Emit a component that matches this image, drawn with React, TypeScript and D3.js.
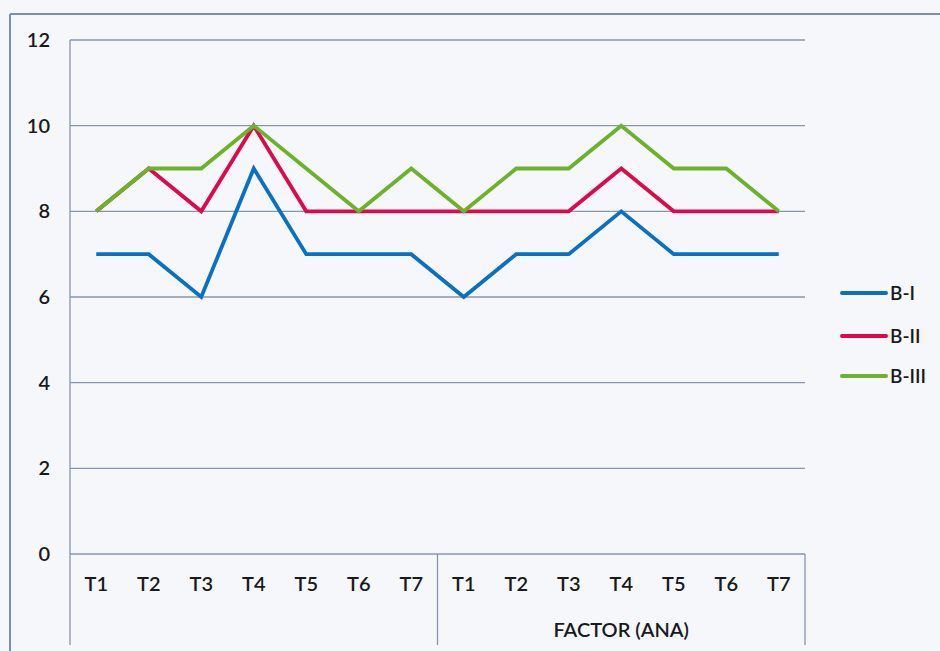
import React from "react";
import * as d3 from "d3";

const categories = ["T1", "T2", "T3", "T4", "T5", "T6", "T7", "T1", "T2", "T3", "T4", "T5", "T6", "T7"];
const seriesNames = ["B-I", "B-II", "B-III"];
const bI = [7, 7, 6, 9, 7, 7, 7, 6, 7, 7, 8, 7, 7, 7];
const bII = [8, 9, 8, 10, 8, 8, 8, 8, 8, 8, 9, 8, 8, 8];
const bIII = [8, 9, 9, 10, 9, 8, 9, 8, 9, 9, 10, 9, 9, 8];
const yTicks = [0, 2, 4, 6, 8, 10, 12];
const groupLabel = "FACTOR (ANA)";

const W = 940;
const H = 651;
const plot = { left: 70, right: 805, top: 40, bottom: 554 };
const colors = ["#0a70c2", "#dc0a4c", "#6cb22a"];
const gridColor = "#8796ae";
const font = "Lato, 'Open Sans', sans-serif";
const textColor = "#1a1a1a";

export default function App() {
  const x = d3
    .scaleBand<number>()
    .domain(categories.map((_, i) => i))
    .range([plot.left, plot.right])
    .paddingInner(0)
    .paddingOuter(0);
  const y = d3.scaleLinear().domain([0, 12]).range([plot.bottom, plot.top]);
  const cx = (i: number) => (x(i) as number) + x.bandwidth() / 2;

  const line = d3
    .line<number>()
    .x((_, i) => cx(i))
    .y((v) => y(v));

  const series = [bI, bII, bIII];
  const sepX = x(7) as number;
  const legendY = [293, 336, 376];

  return (
    <svg
      width={W}
      height={H}
      style={{ position: "absolute", left: 0, top: 0, display: "block" }}
    >
      <rect x={0} y={0} width={W} height={H} fill="#f5f7fb" />
      {/* outer frame */}
      <line x1={10} y1={14} x2={W} y2={14} stroke="#7d90ab" strokeWidth={2} />
      <line x1={10} y1={14} x2={10} y2={H} stroke="#7d90ab" strokeWidth={2} />

      {/* horizontal gridlines */}
      {yTicks.map((t) => (
        <line
          key={t}
          x1={plot.left}
          x2={plot.right}
          y1={y(t)}
          y2={y(t)}
          stroke={gridColor}
          strokeWidth={1.3}
        />
      ))}
      {/* value axis line and category group dividers */}
      <line x1={plot.left} x2={plot.left} y1={plot.top} y2={645} stroke={gridColor} strokeWidth={1.3} />
      <line x1={sepX} x2={sepX} y1={plot.bottom} y2={645} stroke={gridColor} strokeWidth={1.3} />
      <line x1={plot.right} x2={plot.right} y1={plot.bottom} y2={645} stroke={gridColor} strokeWidth={1.3} />

      {/* y tick labels */}
      {yTicks.map((t) => (
        <text
          key={t}
          x={50}
          y={y(t)}
          dy="0.35em"
          textAnchor="end"
          fontFamily={font}
          fontSize={20}
          fontWeight={600}
          fill={textColor}
        >
          {t}
        </text>
      ))}

      {/* category labels */}
      {categories.map((c, i) => (
        <text
          key={i}
          x={cx(i)}
          y={584}
          dy="0.35em"
          textAnchor="middle"
          fontFamily={font}
          fontSize={20}
          fontWeight={600}
          fill={textColor}
        >
          {c}
        </text>
      ))}
      <text
        x={(sepX + plot.right) / 2}
        y={630}
        dy="0.35em"
        textAnchor="middle"
        fontFamily={font}
        fontSize={20}
        fontWeight={600}
        fill={textColor}
      >
        {groupLabel}
      </text>

      {/* series lines */}
      {series.map((s, k) => (
        <path
          key={k}
          d={line(s) as string}
          fill="none"
          stroke={colors[k]}
          strokeWidth={3.8}
          strokeLinejoin="miter"
          strokeLinecap="butt"
        />
      ))}

      {/* legend */}
      {seriesNames.map((n, k) => (
        <g key={n}>
          <line
            x1={842}
            x2={886}
            y1={legendY[k]}
            y2={legendY[k]}
            stroke={colors[k]}
            strokeWidth={4}
            strokeLinecap="round"
          />
          <text
            x={890}
            y={legendY[k]}
            dy="0.35em"
            fontFamily={font}
            fontSize={19}
            fontWeight={600}
            fill={textColor}
          >
            {n}
          </text>
        </g>
      ))}
    </svg>
  );
}
